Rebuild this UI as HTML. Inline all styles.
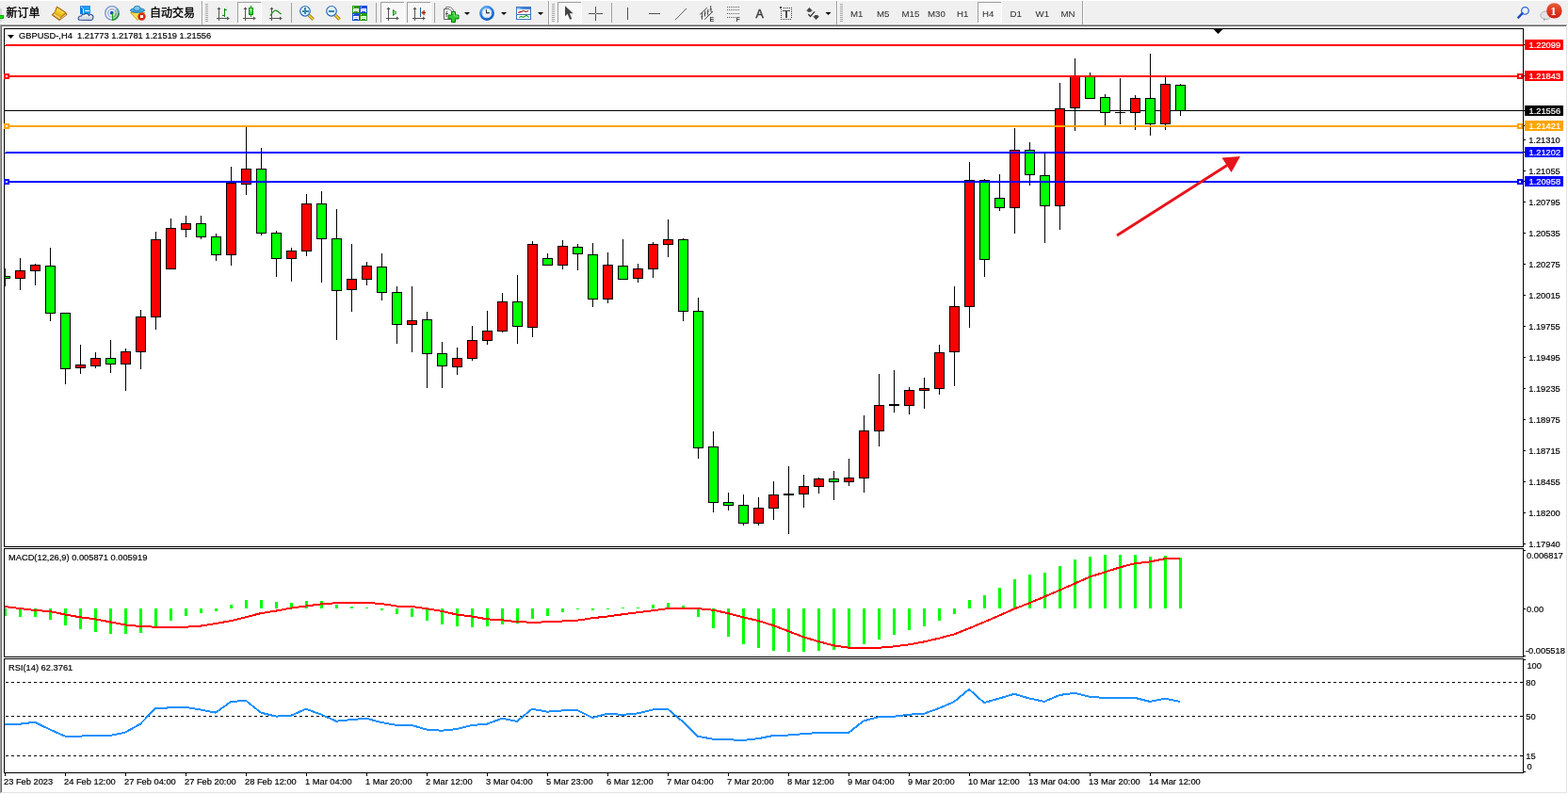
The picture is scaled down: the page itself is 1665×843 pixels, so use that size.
<!DOCTYPE html>
<html><head><meta charset="utf-8"><title>MT4 GBPUSD H4</title>
<style>
html,body{margin:0;padding:0;}
body{width:1665px;height:843px;overflow:hidden;background:#f0f0f0;position:relative;font-family:"Liberation Sans", Arial, sans-serif;}
svg{position:absolute;left:0;top:0;}
.c rect{shape-rendering:crispEdges;}
.t{font-family:"Liberation Sans", Arial, sans-serif;font-size:9.3px;}
.k{fill:#000;stroke:#000;stroke-width:.18px;}
.w{fill:#fff;stroke:#fff;stroke-width:.2px;}
</style></head><body>
<svg class="c" width="1665" height="843" viewBox="0 0 1665 843">
<defs><pattern id="chk" x="0" y="0" width="2" height="2" patternUnits="userSpaceOnUse"><rect width="2" height="2" fill="#f0f0f0"/><rect width="1" height="1" fill="#fff"/><rect x="1" y="1" width="1" height="1" fill="#fff"/></pattern></defs>
<rect x="0" y="0" width="1665" height="1" fill="#ffffff" />
<rect x="0" y="1" width="1665" height="24" fill="#f0f0f0" />
<rect x="0" y="25" width="1665" height="1" fill="#f6f6f6" />
<rect x="0" y="9" width="2" height="14" fill="#d8d8d8" />
<rect x="0" y="16" width="4" height="4" fill="#00b000" />
<rect x="0" y="17" width="3" height="2" fill="#00e000" />
<text x="6.5" y="17.6" font-family='"Liberation Sans", "Noto Sans CJK SC", "WenQuanYi Zen Hei", sans-serif' font-size="12" fill="#000" stroke="#000" stroke-width="0.35">新订单</text>
<defs><linearGradient id="bk" x1="0.8" y1="0" x2="0.2" y2="1"><stop offset="0" stop-color="#fff6a8"/><stop offset="0.5" stop-color="#f2c820"/><stop offset="1" stop-color="#d89a08"/></linearGradient></defs>
<polygon points="60.4,7.1 69.8,13.2 70.8,15.8 63,21.5 55.1,15.8 58.5,12.4" fill="#c4860e" stroke="#9a5a08" stroke-width="0.9" stroke-linejoin="round"/>
<polygon points="60.8,8.3 68.8,13.4 63.8,18.4 57.4,14.4 59.3,11.8" fill="url(#bk)"/>
<polygon points="56.6,15.5 63.2,20.3 64.2,19.1 57.6,14.6" fill="#f4dc90"/>
<polygon points="64.6,19.4 69.6,15 70.1,16 64,20.6" fill="#e6dcb0"/>
<defs><linearGradient id="cl" x1="0" y1="0" x2="0" y2="1"><stop offset="0" stop-color="#ffffff"/><stop offset="1" stop-color="#b8c4da"/></linearGradient></defs>
<rect x="85" y="6.2" width="11" height="9" fill="#18a0f6"/>
<rect x="85" y="6.2" width="3.5" height="9" fill="#0a7ee6"/>
<rect x="85" y="6.2" width="11" height="1.2" fill="#3a8ae8"/>
<polyline points="86,7 88.5,9.2 88.5,15" fill="none" stroke="#e8f6ff" stroke-width="0.9"/>
<rect x="90" y="10.7" width="4.5" height="1" fill="#ffffff" />
<path d="M84.5,21.3 Q82.6,21 83.3,18.6 Q84,16.7 86.5,17 Q87,14.8 89.5,15.2 Q91.2,13.7 93.2,14.8 Q94,15.6 94.5,16.4 Q95.6,15 97.6,15.8 Q99.6,17 98.7,19.5 Q98.5,21.5 96.5,21.5 Z" fill="url(#cl)" stroke="#2c4c8c" stroke-width="1.1"/>
<defs><radialGradient id="sg" cx="119" cy="14" r="8" gradientUnits="userSpaceOnUse"><stop offset="0" stop-color="#f0f8ec"/><stop offset="0.7" stop-color="#a8d8a0"/><stop offset="1" stop-color="#40a040"/></radialGradient></defs>
<path d="M119,14 L119,21.8 A7.8,7.8 0 0 0 126.8,14 A7.8,7.8 0 0 0 124.5,8.5 Z" fill="url(#sg)" opacity="0.9"/>
<g fill="none"><circle cx="118.9" cy="13.9" r="7.2" stroke="#5a84d4" stroke-width="1.3" opacity="0.85"/><circle cx="118.9" cy="13.9" r="4.3" stroke="#7898d8" stroke-width="1.2" opacity="0.75"/><path d="M119,21.1 A7.2,7.2 0 0 0 126.1,14" stroke="#2e8a3a" stroke-width="1.3"/><path d="M119,18.2 A4.3,4.3 0 0 0 123.2,14" stroke="#5aa868" stroke-width="1.1"/></g>
<circle cx="118.7" cy="13.7" r="1.9" fill="#2050c8"/>
<rect x="119" y="14" width="1.3" height="8" fill="#18a018" />
<polygon points="138.6,13.6 153.8,13.4 146,21.5" fill="#f6dc50" stroke="#c8960c" stroke-width="0.8" stroke-linejoin="round"/>
<ellipse cx="146" cy="11" rx="7.6" ry="2.3" fill="#4aaae0" stroke="#1e7aae" stroke-width="0.9"/>
<ellipse cx="145.6" cy="8.9" rx="3.6" ry="2.6" fill="#7cc6ee" stroke="#1e7aae" stroke-width="0.9"/>
<circle cx="150.5" cy="17.6" r="4.2" fill="#dd2a10"/>
<rect x="149" y="16" width="3" height="3" fill="#ffffff" />
<text x="159" y="17.6" font-family='"Liberation Sans", "Noto Sans CJK SC", "WenQuanYi Zen Hei", sans-serif' font-size="12" fill="#000" stroke="#000" stroke-width="0.35">自动交易</text>
<rect x="214" y="1" width="1" height="25" fill="#a0a0a0" />
<rect x="215" y="1" width="1" height="25" fill="#ffffff" />
<rect x="218" y="4" width="3" height="1" fill="#a8a8a8" />
<rect x="218" y="6" width="3" height="1" fill="#a8a8a8" />
<rect x="218" y="8" width="3" height="1" fill="#a8a8a8" />
<rect x="218" y="10" width="3" height="1" fill="#a8a8a8" />
<rect x="218" y="12" width="3" height="1" fill="#a8a8a8" />
<rect x="218" y="14" width="3" height="1" fill="#a8a8a8" />
<rect x="218" y="16" width="3" height="1" fill="#a8a8a8" />
<rect x="218" y="18" width="3" height="1" fill="#a8a8a8" />
<rect x="218" y="20" width="3" height="1" fill="#a8a8a8" />
<rect x="218" y="22" width="3" height="1" fill="#a8a8a8" />
<rect x="232" y="8" width="1" height="14" fill="#555555" />
<polygon points="230.5,10 232.5,7.5 234.5,10" fill="#555555"/>
<rect x="230" y="19" width="12" height="1" fill="#555555" />
<polygon points="241,17.5 243.8,19.5 241,21.5" fill="#555555"/>
<rect x="237.9" y="9" width="1.3" height="9" fill="#0a8a0a" />
<rect x="239" y="9.8" width="2" height="1.2" fill="#0a8a0a" />
<rect x="236" y="15.8" width="2" height="1.2" fill="#0a8a0a" />
<rect x="252" y="2" width="26" height="23" fill="url(#chk)" />
<rect x="252" y="2" width="26" height="1" fill="#a0a0a0" />
<rect x="252" y="2" width="1" height="23" fill="#a0a0a0" />
<rect x="277" y="2" width="1" height="23" fill="#ffffff" />
<rect x="252" y="24" width="26" height="1" fill="#ffffff" />
<rect x="260" y="8" width="1" height="14" fill="#555555" />
<polygon points="258.5,10 260.5,7.5 262.5,10" fill="#555555"/>
<rect x="258" y="19" width="12" height="1" fill="#555555" />
<polygon points="269,17.5 271.8,19.5 269,21.5" fill="#555555"/>
<rect x="266" y="6" width="1" height="12" fill="#109010" />
<defs><linearGradient id="cg" x1="0" y1="0" x2="0" y2="1"><stop offset="0" stop-color="#a0ffa0"/><stop offset="1" stop-color="#18c818"/></linearGradient></defs>
<rect x="264.5" y="8.5" width="4" height="7" fill="url(#cg)" stroke="#0a8a0a" stroke-width="1"/>
<rect x="288" y="8" width="1" height="14" fill="#555555" />
<polygon points="286.5,10 288.5,7.5 290.5,10" fill="#555555"/>
<rect x="286" y="19" width="12" height="1" fill="#555555" />
<polygon points="297,17.5 299.8,19.5 297,21.5" fill="#555555"/>
<path d="M287,16.8 C289,13.5 291,11 293,11.2 C295,11.5 296.5,14 298.8,15" fill="none" stroke="#209020" stroke-width="1.2"/>
<rect x="309" y="3" width="1" height="21" fill="#a0a0a0" />
<line x1="328" y1="16.1" x2="332.6" y2="20.6" stroke="#9a6a10" stroke-width="3.4"/>
<line x1="328" y1="16.1" x2="332.6" y2="20.6" stroke="#f0d030" stroke-width="1.8"/>
<circle cx="324" cy="11.8" r="5.3" fill="#dff3fd" stroke="#2a6cc0" stroke-width="1.2"/>
<rect x="320.5" y="10.8" width="7" height="2" fill="#3c84a8" />
<rect x="323" y="8.3" width="2" height="7" fill="#3c84a8" />
<line x1="356" y1="16.1" x2="360.6" y2="20.6" stroke="#9a6a10" stroke-width="3.4"/>
<line x1="356" y1="16.1" x2="360.6" y2="20.6" stroke="#f0d030" stroke-width="1.8"/>
<circle cx="352" cy="11.8" r="5.3" fill="#dff3fd" stroke="#2a6cc0" stroke-width="1.2"/>
<rect x="349" y="11.0" width="6" height="1.8" fill="#3c84a8" />
<rect x="374" y="6" width="8" height="8" rx="1" fill="#2a9a1a"/>
<rect x="375" y="9" width="6" height="3" fill="#ffffff" />
<rect x="375" y="12" width="1" height="1" fill="#ffffff" />
<rect x="380" y="12" width="1" height="1" fill="#ffffff" />
<rect x="376" y="10" width="4" height="1" fill="#a8dca0" />
<rect x="375" y="7" width="1" height="1" fill="#e0e0e0" />
<rect x="382" y="6" width="8" height="8" rx="1" fill="#1a50d0"/>
<rect x="383" y="9" width="6" height="3" fill="#ffffff" />
<rect x="383" y="12" width="1" height="1" fill="#ffffff" />
<rect x="388" y="12" width="1" height="1" fill="#ffffff" />
<rect x="384" y="10" width="4" height="1" fill="#a8c0f0" />
<rect x="383" y="7" width="1" height="1" fill="#e0e0e0" />
<rect x="374" y="14" width="8" height="8" rx="1" fill="#1a50d0"/>
<rect x="375" y="17" width="6" height="3" fill="#ffffff" />
<rect x="375" y="20" width="1" height="1" fill="#ffffff" />
<rect x="380" y="20" width="1" height="1" fill="#ffffff" />
<rect x="376" y="18" width="4" height="1" fill="#a8c0f0" />
<rect x="375" y="15" width="1" height="1" fill="#e0e0e0" />
<rect x="382" y="14" width="8" height="8" rx="1" fill="#2a9a1a"/>
<rect x="383" y="17" width="6" height="3" fill="#ffffff" />
<rect x="383" y="20" width="1" height="1" fill="#ffffff" />
<rect x="388" y="20" width="1" height="1" fill="#ffffff" />
<rect x="384" y="18" width="4" height="1" fill="#a8dca0" />
<rect x="383" y="15" width="1" height="1" fill="#e0e0e0" />
<rect x="399" y="3" width="1" height="21" fill="#a0a0a0" />
<rect x="404" y="2" width="26" height="23" fill="url(#chk)" />
<rect x="404" y="2" width="26" height="1" fill="#a0a0a0" />
<rect x="404" y="2" width="1" height="23" fill="#a0a0a0" />
<rect x="429" y="2" width="1" height="23" fill="#ffffff" />
<rect x="404" y="24" width="26" height="1" fill="#ffffff" />
<rect x="412" y="8" width="1" height="14" fill="#555555" />
<polygon points="410.5,10 412.5,7.5 414.5,10" fill="#555555"/>
<rect x="410" y="19" width="12" height="1" fill="#555555" />
<polygon points="421,17.5 423.8,19.5 421,21.5" fill="#555555"/>
<polygon points="417.5,10.5 421,13.5 417.5,16.5" fill="#80f080" stroke="#109010" stroke-width="1"/>
<rect x="432" y="2" width="26" height="23" fill="url(#chk)" />
<rect x="432" y="2" width="26" height="1" fill="#a0a0a0" />
<rect x="432" y="2" width="1" height="23" fill="#a0a0a0" />
<rect x="457" y="2" width="1" height="23" fill="#ffffff" />
<rect x="432" y="24" width="26" height="1" fill="#ffffff" />
<rect x="440" y="8" width="1" height="14" fill="#555555" />
<polygon points="438.5,10 440.5,7.5 442.5,10" fill="#555555"/>
<rect x="438" y="19" width="12" height="1" fill="#555555" />
<polygon points="449,17.5 451.8,19.5 449,21.5" fill="#555555"/>
<rect x="446" y="8" width="1" height="10" fill="#1a6aa0" />
<polygon points="447.5,13.5 450.5,11 450.5,16" fill="#f06010" stroke="#902000" stroke-width="0.6"/>
<rect x="449" y="13" width="3" height="1" fill="#902000" />
<rect x="461" y="3" width="1" height="21" fill="#a0a0a0" />
<path d="M473.5,7.5 L478.5,7.5 L481.5,10.5 L481.5,18.5 L473.5,18.5 Z" fill="#f0f0f0" stroke="#808080" stroke-width="1"/>
<path d="M471.5,9.5 L477,9.5 L479.5,12 L479.5,20.5 L471.5,20.5 Z" fill="#fafafa" stroke="#606060" stroke-width="1"/>
<path d="M475.5,12 Q474,12 474,13.5 L474,18 M473,14.5 L476,14.5" fill="none" stroke="#404040" stroke-width="0.9"/>
<path d="M479.5,12.5 h4 v3.5 h3.5 v4 h-3.5 v3.5 h-4 v-3.5 h-3.5 v-4 h3.5 z" fill="#34c834" stroke="#0c800c" stroke-width="1"/>
<path d="M480.5,13.5 h2 v3.5 h3.5 v1" fill="none" stroke="#90f090" stroke-width="0.8"/>
<polygon points="493,13 499,13 496,16" fill="#000"/>
<defs><radialGradient id="clk" cx="0.4" cy="0.3" r="0.8"><stop offset="0" stop-color="#7cc4ff"/><stop offset="0.6" stop-color="#1c78e0"/><stop offset="1" stop-color="#0a48a8"/></radialGradient><radialGradient id="clf" cx="0.5" cy="0.4" r="0.7"><stop offset="0" stop-color="#ffffff"/><stop offset="1" stop-color="#d0e0f4"/></radialGradient></defs>
<circle cx="517" cy="14" r="7.9" fill="url(#clk)"/>
<circle cx="517" cy="14" r="5.3" fill="url(#clf)"/>
<polyline points="516.3,10.3 516.6,13.9 519.8,13.6" fill="none" stroke="#303030" stroke-width="1.1"/>
<circle cx="517" cy="9.6" r="0.5" fill="#888"/><circle cx="521.4" cy="14" r="0.5" fill="#888"/><circle cx="517" cy="18.4" r="0.5" fill="#888"/><circle cx="512.6" cy="14" r="0.5" fill="#888"/>
<polygon points="532,13 538,13 535,16" fill="#000"/>
<defs><linearGradient id="tpl" x1="0" y1="0" x2="1" y2="0"><stop offset="0" stop-color="#a8d0f8"/><stop offset="0.4" stop-color="#4a90e0"/><stop offset="1" stop-color="#3a78c8"/></linearGradient></defs>
<rect x="548.5" y="7.5" width="15" height="13" fill="#ffffff" stroke="#3a74c0" stroke-width="1"/>
<rect x="549" y="8" width="14" height="2" fill="url(#tpl)" />
<rect x="549" y="15" width="14" height="1" fill="#3a74c0" />
<polyline points="550.3,13.4 553.8,12.4 555.8,11.3 558.1,12.4 561.2,11.4" fill="none" stroke="#a01810" stroke-width="1.1"/>
<polyline points="551.1,18.4 553.8,17.4 555.8,18.4 558.9,16.3 561.6,18.4" fill="none" stroke="#18a018" stroke-width="1.1"/>
<polygon points="571,13 577,13 574,16" fill="#000"/>
<rect x="582" y="1" width="1" height="25" fill="#a0a0a0" />
<rect x="583" y="1" width="1" height="25" fill="#ffffff" />
<rect x="586" y="4" width="3" height="1" fill="#a8a8a8" />
<rect x="586" y="6" width="3" height="1" fill="#a8a8a8" />
<rect x="586" y="8" width="3" height="1" fill="#a8a8a8" />
<rect x="586" y="10" width="3" height="1" fill="#a8a8a8" />
<rect x="586" y="12" width="3" height="1" fill="#a8a8a8" />
<rect x="586" y="14" width="3" height="1" fill="#a8a8a8" />
<rect x="586" y="16" width="3" height="1" fill="#a8a8a8" />
<rect x="586" y="18" width="3" height="1" fill="#a8a8a8" />
<rect x="586" y="20" width="3" height="1" fill="#a8a8a8" />
<rect x="586" y="22" width="3" height="1" fill="#a8a8a8" />
<rect x="592" y="2" width="26" height="23" fill="url(#chk)" />
<rect x="592" y="2" width="26" height="1" fill="#a0a0a0" />
<rect x="592" y="2" width="1" height="23" fill="#a0a0a0" />
<rect x="617" y="2" width="1" height="23" fill="#ffffff" />
<rect x="592" y="24" width="26" height="1" fill="#ffffff" />
<polygon points="600,6.3 600,17.2 602.6,14.8 605.2,20.8 607.2,20 604.9,14.3 608.7,14.2" fill="#454545"/>
<rect x="625" y="14" width="15" height="1" fill="#505050" />
<rect x="632" y="7" width="1" height="15" fill="#505050" />
<rect x="632" y="14" width="1" height="1" fill="#f0f0f0" />
<rect x="649" y="3" width="1" height="21" fill="#a0a0a0" />
<rect x="666" y="8" width="1" height="13" fill="#505050" />
<rect x="689" y="14" width="12" height="1" fill="#505050" />
<line x1="717" y1="21" x2="729" y2="9" stroke="#606060" stroke-width="1"/>
<g stroke="#484848" stroke-width="1" fill="none"><line x1="743" y1="15.5" x2="750.8" y2="8.2"/><line x1="748.2" y1="20.7" x2="757" y2="12.2"/><path d="M745.8,13 Q745,17 745.5,20.7"/><path d="M748.7,11.5 Q748.2,15 748.6,17.5"/><path d="M751.8,9.8 Q751.3,13.5 751.8,16.5"/><path d="M754.7,6 Q754.4,10 755.3,13"/><line x1="744.3" y1="18" x2="746.5" y2="17.2"/><line x1="747.5" y1="15" x2="749.5" y2="14.3"/><line x1="750.5" y1="13" x2="752.6" y2="12.2"/><line x1="753.6" y1="10.4" x2="755.8" y2="9.5"/></g>
<text x="753.6" y="23.2" font-family='"Liberation Sans", Arial, sans-serif' font-size="7.2" font-weight="bold" fill="#404040">E</text>
<line x1="772" y1="7.5" x2="785" y2="7.5" stroke="#606060" stroke-width="1" stroke-dasharray="1,1"/>
<line x1="772" y1="10.5" x2="785" y2="10.5" stroke="#606060" stroke-width="1" stroke-dasharray="1,1"/>
<line x1="772" y1="14.5" x2="785" y2="14.5" stroke="#606060" stroke-width="1" stroke-dasharray="1,1"/>
<line x1="772" y1="18.5" x2="785" y2="18.5" stroke="#606060" stroke-width="1" stroke-dasharray="1,1"/>
<text x="781.5" y="23" font-family='"Liberation Sans", Arial, sans-serif' font-size="7" font-weight="bold" fill="#505050">F</text>
<text x="802.6" y="18.9" font-family='"Liberation Sans", Arial, sans-serif' font-size="12.4" fill="#444" stroke="#444" stroke-width="0.55">A</text>
<rect x="828" y="7" width="2" height="2" fill="#3a3a3a" />
<rect x="832" y="8" width="1" height="1" fill="#3a3a3a" />
<rect x="834" y="8" width="1" height="1" fill="#3a3a3a" />
<rect x="836" y="8" width="1" height="1" fill="#3a3a3a" />
<rect x="838" y="8" width="1" height="1" fill="#3a3a3a" />
<rect x="840" y="8" width="1" height="1" fill="#3a3a3a" />
<rect x="829" y="10" width="1" height="1" fill="#3a3a3a" />
<rect x="829" y="12" width="1" height="1" fill="#3a3a3a" />
<rect x="829" y="14" width="1" height="1" fill="#3a3a3a" />
<rect x="829" y="16" width="1" height="1" fill="#3a3a3a" />
<rect x="829" y="18" width="1" height="1" fill="#3a3a3a" />
<rect x="829" y="20" width="1" height="1" fill="#3a3a3a" />
<rect x="840" y="10" width="1" height="1" fill="#3a3a3a" />
<rect x="840" y="12" width="1" height="1" fill="#3a3a3a" />
<rect x="840" y="14" width="1" height="1" fill="#3a3a3a" />
<rect x="840" y="16" width="1" height="1" fill="#3a3a3a" />
<rect x="840" y="18" width="1" height="1" fill="#3a3a3a" />
<rect x="831" y="20" width="1" height="1" fill="#3a3a3a" />
<rect x="833" y="20" width="1" height="1" fill="#3a3a3a" />
<rect x="835" y="20" width="1" height="1" fill="#3a3a3a" />
<rect x="837" y="20" width="1" height="1" fill="#3a3a3a" />
<rect x="839" y="20" width="1" height="1" fill="#3a3a3a" />
<rect x="831" y="10.7" width="8" height="1.6" fill="#4a4a4a" />
<rect x="834.2" y="11" width="1.7" height="7.8" fill="#4a4a4a" />
<polygon points="859.4,7.9 863,11.6 861.4,11.6 861.4,12.8 857.6,12.8 857.6,11.6 856,11.6" fill="#454545"/>
<polyline points="858.3,15.1 860.5,17.4 865,12.4" fill="none" stroke="#3a3a3a" stroke-width="1.4"/>
<polygon points="865,15.9 868.6,15.9 868.6,17.2 870.1,17.2 866.6,20.9 863.1,17.2 865,17.2" fill="#454545"/>
<polygon points="876.5,13 882.5,13 879.5,16" fill="#000"/>
<rect x="888" y="1" width="1" height="25" fill="#a0a0a0" />
<rect x="889" y="1" width="1" height="25" fill="#ffffff" />
<rect x="892" y="4" width="3" height="1" fill="#a8a8a8" />
<rect x="892" y="6" width="3" height="1" fill="#a8a8a8" />
<rect x="892" y="8" width="3" height="1" fill="#a8a8a8" />
<rect x="892" y="10" width="3" height="1" fill="#a8a8a8" />
<rect x="892" y="12" width="3" height="1" fill="#a8a8a8" />
<rect x="892" y="14" width="3" height="1" fill="#a8a8a8" />
<rect x="892" y="16" width="3" height="1" fill="#a8a8a8" />
<rect x="892" y="18" width="3" height="1" fill="#a8a8a8" />
<rect x="892" y="20" width="3" height="1" fill="#a8a8a8" />
<rect x="892" y="22" width="3" height="1" fill="#a8a8a8" />
<rect x="1038" y="2" width="26" height="23" fill="url(#chk)" />
<rect x="1038" y="2" width="26" height="1" fill="#a0a0a0" />
<rect x="1038" y="2" width="1" height="23" fill="#a0a0a0" />
<rect x="1063" y="2" width="1" height="23" fill="#ffffff" />
<rect x="1038" y="24" width="26" height="1" fill="#ffffff" />
<text x="903" y="18.1" font-family='"Liberation Sans", Arial, sans-serif' font-size="9.7" fill="#333" stroke="#333" stroke-width="0.05">M1</text>
<text x="931" y="18.1" font-family='"Liberation Sans", Arial, sans-serif' font-size="9.7" fill="#333" stroke="#333" stroke-width="0.05">M5</text>
<text x="957.5" y="18.1" font-family='"Liberation Sans", Arial, sans-serif' font-size="9.7" fill="#333" stroke="#333" stroke-width="0.05">M15</text>
<text x="985" y="18.1" font-family='"Liberation Sans", Arial, sans-serif' font-size="9.7" fill="#333" stroke="#333" stroke-width="0.05">M30</text>
<text x="1016" y="18.1" font-family='"Liberation Sans", Arial, sans-serif' font-size="9.7" fill="#333" stroke="#333" stroke-width="0.05">H1</text>
<text x="1043" y="18.1" font-family='"Liberation Sans", Arial, sans-serif' font-size="9.7" fill="#333" stroke="#333" stroke-width="0.05">H4</text>
<text x="1072.5" y="18.1" font-family='"Liberation Sans", Arial, sans-serif' font-size="9.7" fill="#333" stroke="#333" stroke-width="0.05">D1</text>
<text x="1099.5" y="18.1" font-family='"Liberation Sans", Arial, sans-serif' font-size="9.7" fill="#333" stroke="#333" stroke-width="0.05">W1</text>
<text x="1126.5" y="18.1" font-family='"Liberation Sans", Arial, sans-serif' font-size="9.7" fill="#333" stroke="#333" stroke-width="0.05">MN</text>
<rect x="1149" y="1" width="1" height="25" fill="#a0a0a0" />
<rect x="1150" y="1" width="1" height="25" fill="#ffffff" />
<circle cx="1619.4" cy="11.4" r="3.8" fill="#f4f4ff" stroke="#2a62d6" stroke-width="1.3"/>
<line x1="1616.6" y1="14.2" x2="1612.3" y2="18.7" stroke="#2050c0" stroke-width="2.4" stroke-linecap="round"/>
<ellipse cx="1641.5" cy="16.3" rx="5.6" ry="4.3" fill="#e4e4ec" stroke="#a8a8a8" stroke-width="0.9"/>
<polygon points="1639,19.5 1641.5,20 1639.6,22.6" fill="#a0a0a0"/>
<defs><linearGradient id="bdg" x1="0" y1="0" x2="0" y2="1"><stop offset="0" stop-color="#ea5a38"/><stop offset="1" stop-color="#d01c0c"/></linearGradient></defs>
<circle cx="1650.4" cy="11.4" r="8.2" fill="url(#bdg)"/>
<text x="1649.6" y="16" text-anchor="middle" font-family="Liberation Serif, serif" font-size="13" font-weight="bold" fill="#ffffff">1</text>
<rect x="0" y="26" width="1665" height="1" fill="#a0a0a0"/>
<rect x="0" y="27" width="1665" height="1" fill="#696969"/>
<rect x="0" y="26" width="1" height="817" fill="#a0a0a0"/>
<rect x="1" y="27" width="1" height="815" fill="#696969"/>
<rect x="2" y="28" width="1661" height="813" fill="#ffffff"/>
<rect x="1663" y="27" width="1" height="815" fill="#e3e3e3"/>
<rect x="1664" y="26" width="1" height="817" fill="#ffffff"/>
<rect x="1" y="841" width="1663" height="1" fill="#e3e3e3"/>
<rect x="0" y="842" width="1665" height="1" fill="#ffffff"/>
<rect x="4" y="30" width="1614" height="1" fill="#000"/>
<rect x="4" y="580" width="1614" height="1" fill="#000"/>
<rect x="4" y="30" width="1" height="551" fill="#000"/>
<rect x="1617" y="30" width="1" height="551" fill="#000"/>
<rect x="4" y="582" width="1614" height="1" fill="#000"/>
<rect x="4" y="697" width="1614" height="1" fill="#000"/>
<rect x="4" y="582" width="1" height="116" fill="#000"/>
<rect x="1617" y="582" width="1" height="116" fill="#000"/>
<rect x="4" y="699" width="1614" height="1" fill="#000"/>
<rect x="4" y="820" width="1614" height="1" fill="#000"/>
<rect x="4" y="699" width="1" height="122" fill="#000"/>
<rect x="1617" y="699" width="1" height="122" fill="#000"/>
<defs><clipPath id="cm"><rect x="5" y="31" width="1612" height="549"/></clipPath><clipPath id="cd"><rect x="5" y="583" width="1612" height="114"/></clipPath><clipPath id="cr"><rect x="5" y="700" width="1612" height="120"/></clipPath></defs>
<g clip-path="url(#cm)">
<rect x="5" y="117" width="1612" height="1" fill="#000"/>
<rect x="5" y="285" width="1" height="19" fill="#000"/>
<rect x="0" y="293" width="11" height="3" fill="#000"/>
<rect x="1" y="294" width="9" height="1" fill="#00ff00"/>
<rect x="21" y="274" width="1" height="34" fill="#000"/>
<rect x="16" y="287" width="11" height="9" fill="#000"/>
<rect x="17" y="288" width="9" height="7" fill="#ff0000"/>
<rect x="37" y="280" width="1" height="23" fill="#000"/>
<rect x="32" y="281" width="11" height="7" fill="#000"/>
<rect x="33" y="282" width="9" height="5" fill="#ff0000"/>
<rect x="53" y="263" width="1" height="78" fill="#000"/>
<rect x="48" y="282" width="11" height="51" fill="#000"/>
<rect x="49" y="283" width="9" height="49" fill="#00ff00"/>
<rect x="69" y="332" width="1" height="76" fill="#000"/>
<rect x="64" y="332" width="11" height="60" fill="#000"/>
<rect x="65" y="333" width="9" height="58" fill="#00ff00"/>
<rect x="85" y="366" width="1" height="31" fill="#000"/>
<rect x="80" y="387" width="11" height="4" fill="#000"/>
<rect x="81" y="388" width="9" height="2" fill="#ff0000"/>
<rect x="101" y="374" width="1" height="17" fill="#000"/>
<rect x="96" y="380" width="11" height="9" fill="#000"/>
<rect x="97" y="381" width="9" height="7" fill="#ff0000"/>
<rect x="117" y="361" width="1" height="35" fill="#000"/>
<rect x="112" y="380" width="11" height="7" fill="#000"/>
<rect x="113" y="381" width="9" height="5" fill="#00ff00"/>
<rect x="133" y="370" width="1" height="45" fill="#000"/>
<rect x="128" y="373" width="11" height="14" fill="#000"/>
<rect x="129" y="374" width="9" height="12" fill="#ff0000"/>
<rect x="149" y="329" width="1" height="63" fill="#000"/>
<rect x="144" y="336" width="11" height="38" fill="#000"/>
<rect x="145" y="337" width="9" height="36" fill="#ff0000"/>
<rect x="165" y="246" width="1" height="104" fill="#000"/>
<rect x="160" y="254" width="11" height="83" fill="#000"/>
<rect x="161" y="255" width="9" height="81" fill="#ff0000"/>
<rect x="181" y="232" width="1" height="54" fill="#000"/>
<rect x="176" y="242" width="11" height="44" fill="#000"/>
<rect x="177" y="243" width="9" height="42" fill="#ff0000"/>
<rect x="197" y="229" width="1" height="23" fill="#000"/>
<rect x="192" y="237" width="11" height="7" fill="#000"/>
<rect x="193" y="238" width="9" height="5" fill="#ff0000"/>
<rect x="213" y="229" width="1" height="25" fill="#000"/>
<rect x="208" y="237" width="11" height="15" fill="#000"/>
<rect x="209" y="238" width="9" height="13" fill="#00ff00"/>
<rect x="229" y="248" width="1" height="29" fill="#000"/>
<rect x="224" y="251" width="11" height="20" fill="#000"/>
<rect x="225" y="252" width="9" height="18" fill="#00ff00"/>
<rect x="245" y="177" width="1" height="105" fill="#000"/>
<rect x="240" y="194" width="11" height="77" fill="#000"/>
<rect x="241" y="195" width="9" height="75" fill="#ff0000"/>
<rect x="261" y="135" width="1" height="72" fill="#000"/>
<rect x="256" y="179" width="11" height="17" fill="#000"/>
<rect x="257" y="180" width="9" height="15" fill="#ff0000"/>
<rect x="277" y="157" width="1" height="93" fill="#000"/>
<rect x="272" y="179" width="11" height="69" fill="#000"/>
<rect x="273" y="180" width="9" height="67" fill="#00ff00"/>
<rect x="293" y="245" width="1" height="49" fill="#000"/>
<rect x="288" y="247" width="11" height="28" fill="#000"/>
<rect x="289" y="248" width="9" height="26" fill="#00ff00"/>
<rect x="309" y="263" width="1" height="36" fill="#000"/>
<rect x="304" y="266" width="11" height="9" fill="#000"/>
<rect x="305" y="267" width="9" height="7" fill="#ff0000"/>
<rect x="325" y="206" width="1" height="66" fill="#000"/>
<rect x="320" y="216" width="11" height="51" fill="#000"/>
<rect x="321" y="217" width="9" height="49" fill="#ff0000"/>
<rect x="341" y="203" width="1" height="97" fill="#000"/>
<rect x="336" y="216" width="11" height="38" fill="#000"/>
<rect x="337" y="217" width="9" height="36" fill="#00ff00"/>
<rect x="357" y="222" width="1" height="139" fill="#000"/>
<rect x="352" y="253" width="11" height="56" fill="#000"/>
<rect x="353" y="254" width="9" height="54" fill="#00ff00"/>
<rect x="373" y="259" width="1" height="72" fill="#000"/>
<rect x="368" y="296" width="11" height="12" fill="#000"/>
<rect x="369" y="297" width="9" height="10" fill="#ff0000"/>
<rect x="389" y="278" width="1" height="25" fill="#000"/>
<rect x="384" y="282" width="11" height="15" fill="#000"/>
<rect x="385" y="283" width="9" height="13" fill="#ff0000"/>
<rect x="405" y="269" width="1" height="50" fill="#000"/>
<rect x="400" y="283" width="11" height="28" fill="#000"/>
<rect x="401" y="284" width="9" height="26" fill="#00ff00"/>
<rect x="421" y="304" width="1" height="61" fill="#000"/>
<rect x="416" y="310" width="11" height="35" fill="#000"/>
<rect x="417" y="311" width="9" height="33" fill="#00ff00"/>
<rect x="437" y="304" width="1" height="70" fill="#000"/>
<rect x="432" y="340" width="11" height="5" fill="#000"/>
<rect x="433" y="341" width="9" height="3" fill="#ff0000"/>
<rect x="453" y="331" width="1" height="81" fill="#000"/>
<rect x="448" y="339" width="11" height="37" fill="#000"/>
<rect x="449" y="340" width="9" height="35" fill="#00ff00"/>
<rect x="469" y="363" width="1" height="49" fill="#000"/>
<rect x="464" y="375" width="11" height="14" fill="#000"/>
<rect x="465" y="376" width="9" height="12" fill="#00ff00"/>
<rect x="485" y="369" width="1" height="29" fill="#000"/>
<rect x="480" y="380" width="11" height="10" fill="#000"/>
<rect x="481" y="381" width="9" height="8" fill="#ff0000"/>
<rect x="501" y="346" width="1" height="37" fill="#000"/>
<rect x="496" y="361" width="11" height="20" fill="#000"/>
<rect x="497" y="362" width="9" height="18" fill="#ff0000"/>
<rect x="517" y="330" width="1" height="36" fill="#000"/>
<rect x="512" y="351" width="11" height="11" fill="#000"/>
<rect x="513" y="352" width="9" height="9" fill="#ff0000"/>
<rect x="533" y="311" width="1" height="42" fill="#000"/>
<rect x="528" y="320" width="11" height="32" fill="#000"/>
<rect x="529" y="321" width="9" height="30" fill="#ff0000"/>
<rect x="549" y="292" width="1" height="73" fill="#000"/>
<rect x="544" y="320" width="11" height="27" fill="#000"/>
<rect x="545" y="321" width="9" height="25" fill="#00ff00"/>
<rect x="565" y="256" width="1" height="102" fill="#000"/>
<rect x="560" y="259" width="11" height="89" fill="#000"/>
<rect x="561" y="260" width="9" height="87" fill="#ff0000"/>
<rect x="581" y="269" width="1" height="13" fill="#000"/>
<rect x="576" y="274" width="11" height="8" fill="#000"/>
<rect x="577" y="275" width="9" height="6" fill="#00ff00"/>
<rect x="597" y="255" width="1" height="31" fill="#000"/>
<rect x="592" y="261" width="11" height="21" fill="#000"/>
<rect x="593" y="262" width="9" height="19" fill="#ff0000"/>
<rect x="613" y="259" width="1" height="28" fill="#000"/>
<rect x="608" y="262" width="11" height="8" fill="#000"/>
<rect x="609" y="263" width="9" height="6" fill="#00ff00"/>
<rect x="629" y="258" width="1" height="68" fill="#000"/>
<rect x="624" y="270" width="11" height="48" fill="#000"/>
<rect x="625" y="271" width="9" height="46" fill="#00ff00"/>
<rect x="645" y="268" width="1" height="54" fill="#000"/>
<rect x="640" y="281" width="11" height="37" fill="#000"/>
<rect x="641" y="282" width="9" height="35" fill="#ff0000"/>
<rect x="661" y="254" width="1" height="43" fill="#000"/>
<rect x="656" y="282" width="11" height="15" fill="#000"/>
<rect x="657" y="283" width="9" height="13" fill="#00ff00"/>
<rect x="677" y="280" width="1" height="20" fill="#000"/>
<rect x="672" y="285" width="11" height="11" fill="#000"/>
<rect x="673" y="286" width="9" height="9" fill="#ff0000"/>
<rect x="693" y="257" width="1" height="38" fill="#000"/>
<rect x="688" y="259" width="11" height="27" fill="#000"/>
<rect x="689" y="260" width="9" height="25" fill="#ff0000"/>
<rect x="709" y="233" width="1" height="40" fill="#000"/>
<rect x="704" y="254" width="11" height="6" fill="#000"/>
<rect x="705" y="255" width="9" height="4" fill="#ff0000"/>
<rect x="725" y="253" width="1" height="88" fill="#000"/>
<rect x="720" y="254" width="11" height="77" fill="#000"/>
<rect x="721" y="255" width="9" height="75" fill="#00ff00"/>
<rect x="741" y="316" width="1" height="171" fill="#000"/>
<rect x="736" y="330" width="11" height="146" fill="#000"/>
<rect x="737" y="331" width="9" height="144" fill="#00ff00"/>
<rect x="757" y="458" width="1" height="86" fill="#000"/>
<rect x="752" y="474" width="11" height="60" fill="#000"/>
<rect x="753" y="475" width="9" height="58" fill="#00ff00"/>
<rect x="773" y="523" width="1" height="19" fill="#000"/>
<rect x="768" y="533" width="11" height="4" fill="#000"/>
<rect x="769" y="534" width="9" height="2" fill="#00ff00"/>
<rect x="789" y="525" width="1" height="33" fill="#000"/>
<rect x="784" y="536" width="11" height="20" fill="#000"/>
<rect x="785" y="537" width="9" height="18" fill="#00ff00"/>
<rect x="805" y="528" width="1" height="30" fill="#000"/>
<rect x="800" y="539" width="11" height="17" fill="#000"/>
<rect x="801" y="540" width="9" height="15" fill="#ff0000"/>
<rect x="821" y="511" width="1" height="41" fill="#000"/>
<rect x="816" y="525" width="11" height="15" fill="#000"/>
<rect x="817" y="526" width="9" height="13" fill="#ff0000"/>
<rect x="837" y="495" width="1" height="72" fill="#000"/>
<rect x="832" y="524" width="11" height="2" fill="#000"/>
<rect x="853" y="504" width="1" height="35" fill="#000"/>
<rect x="848" y="516" width="11" height="9" fill="#000"/>
<rect x="849" y="517" width="9" height="7" fill="#ff0000"/>
<rect x="869" y="507" width="1" height="17" fill="#000"/>
<rect x="864" y="508" width="11" height="9" fill="#000"/>
<rect x="865" y="509" width="9" height="7" fill="#ff0000"/>
<rect x="885" y="500" width="1" height="31" fill="#000"/>
<rect x="880" y="508" width="11" height="4" fill="#000"/>
<rect x="881" y="509" width="9" height="2" fill="#00ff00"/>
<rect x="901" y="487" width="1" height="29" fill="#000"/>
<rect x="896" y="507" width="11" height="5" fill="#000"/>
<rect x="897" y="508" width="9" height="3" fill="#ff0000"/>
<rect x="917" y="441" width="1" height="82" fill="#000"/>
<rect x="912" y="457" width="11" height="51" fill="#000"/>
<rect x="913" y="458" width="9" height="49" fill="#ff0000"/>
<rect x="933" y="397" width="1" height="77" fill="#000"/>
<rect x="928" y="430" width="11" height="28" fill="#000"/>
<rect x="929" y="431" width="9" height="26" fill="#ff0000"/>
<rect x="949" y="393" width="1" height="45" fill="#000"/>
<rect x="944" y="429" width="11" height="2" fill="#000"/>
<rect x="965" y="411" width="1" height="29" fill="#000"/>
<rect x="960" y="414" width="11" height="17" fill="#000"/>
<rect x="961" y="415" width="9" height="15" fill="#ff0000"/>
<rect x="981" y="401" width="1" height="33" fill="#000"/>
<rect x="976" y="412" width="11" height="3" fill="#000"/>
<rect x="977" y="413" width="9" height="1" fill="#ff0000"/>
<rect x="997" y="366" width="1" height="53" fill="#000"/>
<rect x="992" y="374" width="11" height="39" fill="#000"/>
<rect x="993" y="375" width="9" height="37" fill="#ff0000"/>
<rect x="1013" y="304" width="1" height="106" fill="#000"/>
<rect x="1008" y="325" width="11" height="49" fill="#000"/>
<rect x="1009" y="326" width="9" height="47" fill="#ff0000"/>
<rect x="1029" y="172" width="1" height="176" fill="#000"/>
<rect x="1024" y="191" width="11" height="135" fill="#000"/>
<rect x="1025" y="192" width="9" height="133" fill="#ff0000"/>
<rect x="1045" y="190" width="1" height="104" fill="#000"/>
<rect x="1040" y="191" width="11" height="85" fill="#000"/>
<rect x="1041" y="192" width="9" height="83" fill="#00ff00"/>
<rect x="1061" y="185" width="1" height="39" fill="#000"/>
<rect x="1056" y="210" width="11" height="11" fill="#000"/>
<rect x="1057" y="211" width="9" height="9" fill="#00ff00"/>
<rect x="1077" y="136" width="1" height="112" fill="#000"/>
<rect x="1072" y="159" width="11" height="62" fill="#000"/>
<rect x="1073" y="160" width="9" height="60" fill="#ff0000"/>
<rect x="1093" y="151" width="1" height="46" fill="#000"/>
<rect x="1088" y="159" width="11" height="27" fill="#000"/>
<rect x="1089" y="160" width="9" height="25" fill="#00ff00"/>
<rect x="1109" y="163" width="1" height="95" fill="#000"/>
<rect x="1104" y="186" width="11" height="33" fill="#000"/>
<rect x="1105" y="187" width="9" height="31" fill="#00ff00"/>
<rect x="1125" y="88" width="1" height="156" fill="#000"/>
<rect x="1120" y="115" width="11" height="104" fill="#000"/>
<rect x="1121" y="116" width="9" height="102" fill="#ff0000"/>
<rect x="1141" y="62" width="1" height="77" fill="#000"/>
<rect x="1136" y="81" width="11" height="34" fill="#000"/>
<rect x="1137" y="82" width="9" height="32" fill="#ff0000"/>
<rect x="1157" y="77" width="1" height="28" fill="#000"/>
<rect x="1152" y="81" width="11" height="24" fill="#000"/>
<rect x="1153" y="82" width="9" height="22" fill="#00ff00"/>
<rect x="1173" y="100" width="1" height="33" fill="#000"/>
<rect x="1168" y="103" width="11" height="17" fill="#000"/>
<rect x="1169" y="104" width="9" height="15" fill="#00ff00"/>
<rect x="1189" y="83" width="1" height="49" fill="#000"/>
<rect x="1184" y="119" width="11" height="1" fill="#000"/>
<rect x="1205" y="101" width="1" height="37" fill="#000"/>
<rect x="1200" y="104" width="11" height="16" fill="#000"/>
<rect x="1201" y="105" width="9" height="14" fill="#ff0000"/>
<rect x="1221" y="57" width="1" height="87" fill="#000"/>
<rect x="1216" y="104" width="11" height="28" fill="#000"/>
<rect x="1217" y="105" width="9" height="26" fill="#00ff00"/>
<rect x="1237" y="82" width="1" height="56" fill="#000"/>
<rect x="1232" y="89" width="11" height="43" fill="#000"/>
<rect x="1233" y="90" width="9" height="41" fill="#ff0000"/>
<rect x="1253" y="89" width="1" height="34" fill="#000"/>
<rect x="1248" y="90" width="11" height="28" fill="#000"/>
<rect x="1249" y="91" width="9" height="26" fill="#00ff00"/>
<rect x="6" y="47" width="1611" height="1" fill="#ff0000"/>
<rect x="5" y="48" width="1612" height="1" fill="#ff0000"/>
<rect x="5" y="80" width="1612" height="2" fill="#ff0000"/>
<rect x="5" y="133" width="1612" height="2" fill="#ffa500"/>
<rect x="6" y="161" width="1611" height="1" fill="#0000ff"/>
<rect x="5" y="162" width="1612" height="1" fill="#0000ff"/>
<rect x="5" y="192" width="1612" height="2" fill="#0000ff"/>
</g>
<rect x="4" y="78" width="6" height="6" fill="#ff0000"/>
<rect x="6" y="80" width="2" height="2" fill="#fff"/>
<rect x="1611" y="78" width="6" height="6" fill="#ff0000"/>
<rect x="1613" y="80" width="2" height="2" fill="#fff"/>
<rect x="4" y="131" width="6" height="6" fill="#ffa500"/>
<rect x="6" y="133" width="2" height="2" fill="#fff"/>
<rect x="1611" y="131" width="6" height="6" fill="#ffa500"/>
<rect x="1613" y="133" width="2" height="2" fill="#fff"/>
<rect x="4" y="190" width="6" height="6" fill="#0000ff"/>
<rect x="6" y="192" width="2" height="2" fill="#fff"/>
<rect x="1611" y="190" width="6" height="6" fill="#0000ff"/>
<rect x="1613" y="192" width="2" height="2" fill="#fff"/>
<polygon points="1288.5,31 1298.5,31 1293.5,36" fill="#000"/>
<polygon points="8,37 15,37 11.5,41" fill="#000"/>
<text class="t k" x="20" y="41.3" xml:space="preserve">GBPUSD-,H4  1.21773 1.21781 1.21519 1.21556</text>
<rect x="1618" y="148" width="2" height="1" fill="#000"/>
<text class="t k" x="1623.2" y="151.6" >1.21310</text>
<rect x="1618" y="181" width="2" height="1" fill="#000"/>
<text class="t k" x="1623.2" y="184.6" >1.21055</text>
<rect x="1618" y="214" width="2" height="1" fill="#000"/>
<text class="t k" x="1623.2" y="217.6" >1.20795</text>
<rect x="1618" y="247" width="2" height="1" fill="#000"/>
<text class="t k" x="1623.2" y="250.6" >1.20535</text>
<rect x="1618" y="280" width="2" height="1" fill="#000"/>
<text class="t k" x="1623.2" y="283.6" >1.20275</text>
<rect x="1618" y="313" width="2" height="1" fill="#000"/>
<text class="t k" x="1623.2" y="316.6" >1.20015</text>
<rect x="1618" y="346" width="2" height="1" fill="#000"/>
<text class="t k" x="1623.2" y="349.6" >1.19755</text>
<rect x="1618" y="379" width="2" height="1" fill="#000"/>
<text class="t k" x="1623.2" y="382.6" >1.19495</text>
<rect x="1618" y="412" width="2" height="1" fill="#000"/>
<text class="t k" x="1623.2" y="415.6" >1.19235</text>
<rect x="1618" y="445" width="2" height="1" fill="#000"/>
<text class="t k" x="1623.2" y="448.6" >1.18975</text>
<rect x="1618" y="478" width="2" height="1" fill="#000"/>
<text class="t k" x="1623.2" y="481.6" >1.18715</text>
<rect x="1618" y="511" width="2" height="1" fill="#000"/>
<text class="t k" x="1623.2" y="514.6" >1.18455</text>
<rect x="1618" y="544" width="2" height="1" fill="#000"/>
<text class="t k" x="1623.2" y="547.6" >1.18200</text>
<rect x="1618" y="577" width="2" height="1" fill="#000"/>
<text class="t k" x="1623.2" y="580.6" >1.17940</text>
<rect x="1618" y="47" width="1" height="1" fill="#000"/>
<rect x="1619" y="42" width="41" height="11" fill="#ff0000"/>
<text class="t w" x="1623.5" y="50.6" >1.22099</text>
<rect x="1618" y="80" width="1" height="1" fill="#000"/>
<rect x="1619" y="75" width="41" height="11" fill="#ff0000"/>
<text class="t w" x="1623.5" y="83.6" >1.21843</text>
<rect x="1618" y="117" width="1" height="1" fill="#000"/>
<rect x="1619" y="112" width="41" height="11" fill="#000000"/>
<text class="t w" x="1623.5" y="120.6" >1.21556</text>
<rect x="1618" y="133" width="1" height="1" fill="#000"/>
<rect x="1619" y="128" width="41" height="11" fill="#ffa500"/>
<text class="t w" x="1623.5" y="136.6" >1.21421</text>
<rect x="1618" y="161" width="1" height="1" fill="#000"/>
<rect x="1619" y="156" width="41" height="11" fill="#0000ff"/>
<text class="t w" x="1623.5" y="164.6" >1.21202</text>
<rect x="1618" y="192" width="1" height="1" fill="#000"/>
<rect x="1619" y="187" width="41" height="11" fill="#0000ff"/>
<text class="t w" x="1623.5" y="195.6" >1.20958</text>
<g clip-path="url(#cd)">
<rect x="4" y="646" width="3" height="8" fill="#00ff00"/>
<rect x="20" y="646" width="3" height="9" fill="#00ff00"/>
<rect x="36" y="646" width="3" height="9" fill="#00ff00"/>
<rect x="52" y="646" width="3" height="12" fill="#00ff00"/>
<rect x="68" y="646" width="3" height="18" fill="#00ff00"/>
<rect x="84" y="646" width="3" height="22" fill="#00ff00"/>
<rect x="100" y="646" width="3" height="25" fill="#00ff00"/>
<rect x="116" y="646" width="3" height="27" fill="#00ff00"/>
<rect x="132" y="646" width="3" height="27" fill="#00ff00"/>
<rect x="148" y="646" width="3" height="26" fill="#00ff00"/>
<rect x="164" y="646" width="3" height="19" fill="#00ff00"/>
<rect x="180" y="646" width="3" height="13" fill="#00ff00"/>
<rect x="196" y="646" width="3" height="8" fill="#00ff00"/>
<rect x="212" y="646" width="3" height="5" fill="#00ff00"/>
<rect x="228" y="646" width="3" height="3" fill="#00ff00"/>
<rect x="244" y="642" width="3" height="4" fill="#00ff00"/>
<rect x="260" y="637" width="3" height="9" fill="#00ff00"/>
<rect x="276" y="637" width="3" height="9" fill="#00ff00"/>
<rect x="292" y="639" width="3" height="7" fill="#00ff00"/>
<rect x="308" y="640" width="3" height="6" fill="#00ff00"/>
<rect x="324" y="638" width="3" height="8" fill="#00ff00"/>
<rect x="340" y="638" width="3" height="8" fill="#00ff00"/>
<rect x="356" y="642" width="3" height="4" fill="#00ff00"/>
<rect x="372" y="644" width="3" height="2" fill="#00ff00"/>
<rect x="388" y="645" width="3" height="1" fill="#00ff00"/>
<rect x="404" y="646" width="3" height="2" fill="#00ff00"/>
<rect x="420" y="646" width="3" height="6" fill="#00ff00"/>
<rect x="436" y="646" width="3" height="9" fill="#00ff00"/>
<rect x="452" y="646" width="3" height="13" fill="#00ff00"/>
<rect x="468" y="646" width="3" height="17" fill="#00ff00"/>
<rect x="484" y="646" width="3" height="19" fill="#00ff00"/>
<rect x="500" y="646" width="3" height="20" fill="#00ff00"/>
<rect x="516" y="646" width="3" height="19" fill="#00ff00"/>
<rect x="532" y="646" width="3" height="17" fill="#00ff00"/>
<rect x="548" y="646" width="3" height="16" fill="#00ff00"/>
<rect x="564" y="646" width="3" height="11" fill="#00ff00"/>
<rect x="580" y="646" width="3" height="8" fill="#00ff00"/>
<rect x="596" y="646" width="3" height="4" fill="#00ff00"/>
<rect x="612" y="646" width="3" height="1" fill="#00ff00"/>
<rect x="628" y="646" width="3" height="2" fill="#00ff00"/>
<rect x="644" y="646" width="3" height="1" fill="#00ff00"/>
<rect x="660" y="645" width="3" height="1" fill="#00ff00"/>
<rect x="676" y="645" width="3" height="1" fill="#00ff00"/>
<rect x="692" y="642" width="3" height="4" fill="#00ff00"/>
<rect x="708" y="640" width="3" height="6" fill="#00ff00"/>
<rect x="724" y="643" width="3" height="3" fill="#00ff00"/>
<rect x="740" y="646" width="3" height="9" fill="#00ff00"/>
<rect x="756" y="646" width="3" height="21" fill="#00ff00"/>
<rect x="772" y="646" width="3" height="30" fill="#00ff00"/>
<rect x="788" y="646" width="3" height="38" fill="#00ff00"/>
<rect x="804" y="646" width="3" height="42" fill="#00ff00"/>
<rect x="820" y="646" width="3" height="45" fill="#00ff00"/>
<rect x="836" y="646" width="3" height="46" fill="#00ff00"/>
<rect x="852" y="646" width="3" height="46" fill="#00ff00"/>
<rect x="868" y="646" width="3" height="45" fill="#00ff00"/>
<rect x="884" y="646" width="3" height="44" fill="#00ff00"/>
<rect x="900" y="646" width="3" height="42" fill="#00ff00"/>
<rect x="916" y="646" width="3" height="38" fill="#00ff00"/>
<rect x="932" y="646" width="3" height="33" fill="#00ff00"/>
<rect x="948" y="646" width="3" height="28" fill="#00ff00"/>
<rect x="964" y="646" width="3" height="23" fill="#00ff00"/>
<rect x="980" y="646" width="3" height="19" fill="#00ff00"/>
<rect x="996" y="646" width="3" height="13" fill="#00ff00"/>
<rect x="1012" y="646" width="3" height="6" fill="#00ff00"/>
<rect x="1028" y="637" width="3" height="9" fill="#00ff00"/>
<rect x="1044" y="632" width="3" height="14" fill="#00ff00"/>
<rect x="1060" y="624" width="3" height="22" fill="#00ff00"/>
<rect x="1076" y="615" width="3" height="31" fill="#00ff00"/>
<rect x="1092" y="610" width="3" height="36" fill="#00ff00"/>
<rect x="1108" y="608" width="3" height="38" fill="#00ff00"/>
<rect x="1124" y="601" width="3" height="45" fill="#00ff00"/>
<rect x="1140" y="594" width="3" height="52" fill="#00ff00"/>
<rect x="1156" y="591" width="3" height="55" fill="#00ff00"/>
<rect x="1172" y="589" width="3" height="57" fill="#00ff00"/>
<rect x="1188" y="589" width="3" height="57" fill="#00ff00"/>
<rect x="1204" y="589" width="3" height="57" fill="#00ff00"/>
<rect x="1220" y="591" width="3" height="55" fill="#00ff00"/>
<rect x="1236" y="590" width="3" height="56" fill="#00ff00"/>
<rect x="1252" y="592" width="3" height="54" fill="#00ff00"/>
<polyline points="5,644.0 21,646.0 37,648.0 53,649.0 69,652.5 85,655.3 101,657.3 117,660.4 133,663.4 149,665.0 165,665.7 181,665.7 197,665.7 213,664.6 229,662.0 245,659.2 261,655.3 277,651.1 293,648.6 309,645.6 325,643.5 341,641.4 357,640.2 373,639.8 389,639.8 405,641.0 421,643.5 437,644.0 453,646.1 469,648.9 485,652.5 501,654.5 517,657.3 533,658.3 549,660.2 565,660.7 581,660.4 597,659.5 613,658.7 629,656.2 645,654.5 661,652.3 677,650.3 693,648.3 709,646.1 725,645.7 741,646.1 757,647.7 773,651.1 789,655.3 805,659.0 821,664.0 837,670.1 853,676.3 869,681.0 885,685.3 901,687.6 917,687.8 933,687.8 949,686.4 965,684.4 981,681.4 997,677.7 1013,673.5 1029,667.1 1045,660.4 1061,653.6 1077,646.5 1093,640.3 1109,633.6 1125,626.7 1141,619.7 1157,612.5 1173,607.5 1189,602.4 1205,598.3 1221,596.4 1237,593.2 1253,592.9" fill="none" stroke="#ff0000" stroke-width="2" shape-rendering="crispEdges"/>
</g>
<text class="t k" x="9" y="594.8" >MACD(12,26,9) 0.005871 0.005919</text>
<rect x="1618" y="584" width="2" height="1" fill="#000"/>
<rect x="1618" y="646" width="2" height="1" fill="#000"/>
<rect x="1618" y="696" width="2" height="1" fill="#000"/>
<text class="t k" x="1621" y="593" >0.006817</text>
<text class="t k" x="1621" y="650" >0.00</text>
<text class="t k" x="1620" y="694" >-0.005518</text>
<g clip-path="url(#cr)">
<line x1="6" y1="724.5" x2="1617" y2="724.5" stroke="#000" stroke-width="1" stroke-dasharray="3,3" shape-rendering="crispEdges"/>
<line x1="6" y1="760.5" x2="1617" y2="760.5" stroke="#000" stroke-width="1" stroke-dasharray="3,3" shape-rendering="crispEdges"/>
<line x1="6" y1="802.5" x2="1617" y2="802.5" stroke="#000" stroke-width="1" stroke-dasharray="3,3" shape-rendering="crispEdges"/>
<polyline points="5,769.0 21,768.7 37,766.7 53,774.6 69,781.6 85,781.6 101,781.0 117,781.0 133,777.6 149,768.7 165,751.9 181,751.4 197,750.9 213,753.5 229,756.6 245,745.1 261,743.8 277,756.6 293,760.6 309,759.8 325,752.7 341,758.6 357,765.7 373,764.1 389,762.8 405,767.0 421,769.9 437,769.9 453,774.6 469,775.7 485,774.1 501,770.0 517,768.7 533,762.8 549,765.8 565,752.7 581,755.7 597,754.4 613,753.9 629,762.0 645,757.7 661,758.9 677,757.4 693,753.5 709,752.7 725,766.2 741,781.8 757,784.7 773,785.2 789,786.0 805,784.2 821,781.0 837,780.5 853,779.2 869,778.0 885,778.0 901,778.0 917,765.4 933,761.2 949,760.7 965,758.7 981,757.8 997,752.0 1013,745.2 1029,731.8 1045,746.1 1061,741.5 1077,736.8 1093,741.5 1109,744.9 1125,738.0 1141,735.8 1157,739.8 1173,740.9 1189,740.9 1205,740.9 1221,744.9 1237,741.7 1253,744.9" fill="none" stroke="#1e90ff" stroke-width="2" shape-rendering="crispEdges"/>
</g>
<text class="t k" x="9" y="711.8" >RSI(14) 62.3761</text>
<text class="t k" x="1621.4" y="710" >100</text>
<text class="t k" x="1620.3" y="727.5" >80</text>
<text class="t k" x="1620.3" y="763.5" >50</text>
<text class="t k" x="1620.3" y="805.5" >15</text>
<text class="t k" x="1621.4" y="817" >0</text>
<rect x="1618" y="700" width="2" height="1" fill="#000"/>
<rect x="1618" y="819" width="2" height="1" fill="#000"/>
<rect x="5" y="821" width="1" height="3" fill="#000"/>
<text class="t k" x="4" y="832.6" >23 Feb 2023</text>
<rect x="69" y="821" width="1" height="3" fill="#000"/>
<text class="t k" x="68" y="832.6" >24 Feb 12:00</text>
<rect x="133" y="821" width="1" height="3" fill="#000"/>
<text class="t k" x="132" y="832.6" >27 Feb 04:00</text>
<rect x="197" y="821" width="1" height="3" fill="#000"/>
<text class="t k" x="196" y="832.6" >27 Feb 20:00</text>
<rect x="261" y="821" width="1" height="3" fill="#000"/>
<text class="t k" x="260" y="832.6" >28 Feb 12:00</text>
<rect x="325" y="821" width="1" height="3" fill="#000"/>
<text class="t k" x="324" y="832.6" >1 Mar 04:00</text>
<rect x="389" y="821" width="1" height="3" fill="#000"/>
<text class="t k" x="388" y="832.6" >1 Mar 20:00</text>
<rect x="453" y="821" width="1" height="3" fill="#000"/>
<text class="t k" x="452" y="832.6" >2 Mar 12:00</text>
<rect x="517" y="821" width="1" height="3" fill="#000"/>
<text class="t k" x="516" y="832.6" >3 Mar 04:00</text>
<rect x="581" y="821" width="1" height="3" fill="#000"/>
<text class="t k" x="580" y="832.6" >5 Mar 23:00</text>
<rect x="645" y="821" width="1" height="3" fill="#000"/>
<text class="t k" x="644" y="832.6" >6 Mar 12:00</text>
<rect x="709" y="821" width="1" height="3" fill="#000"/>
<text class="t k" x="708" y="832.6" >7 Mar 04:00</text>
<rect x="773" y="821" width="1" height="3" fill="#000"/>
<text class="t k" x="772" y="832.6" >7 Mar 20:00</text>
<rect x="837" y="821" width="1" height="3" fill="#000"/>
<text class="t k" x="836" y="832.6" >8 Mar 12:00</text>
<rect x="901" y="821" width="1" height="3" fill="#000"/>
<text class="t k" x="900" y="832.6" >9 Mar 04:00</text>
<rect x="965" y="821" width="1" height="3" fill="#000"/>
<text class="t k" x="964" y="832.6" >9 Mar 20:00</text>
<rect x="1029" y="821" width="1" height="3" fill="#000"/>
<text class="t k" x="1028" y="832.6" >10 Mar 12:00</text>
<rect x="1093" y="821" width="1" height="3" fill="#000"/>
<text class="t k" x="1092" y="832.6" >13 Mar 04:00</text>
<rect x="1157" y="821" width="1" height="3" fill="#000"/>
<text class="t k" x="1156" y="832.6" >13 Mar 20:00</text>
<rect x="1221" y="821" width="1" height="3" fill="#000"/>
<text class="t k" x="1220" y="832.6" >14 Mar 12:00</text>
<line x1="1186" y1="250" x2="1303" y2="175.5" stroke="#e8141c" stroke-width="3"/>
<polygon points="1297.5,167.5 1317,166 1307.5,183" fill="#e8141c"/>
</svg>
</body></html>
